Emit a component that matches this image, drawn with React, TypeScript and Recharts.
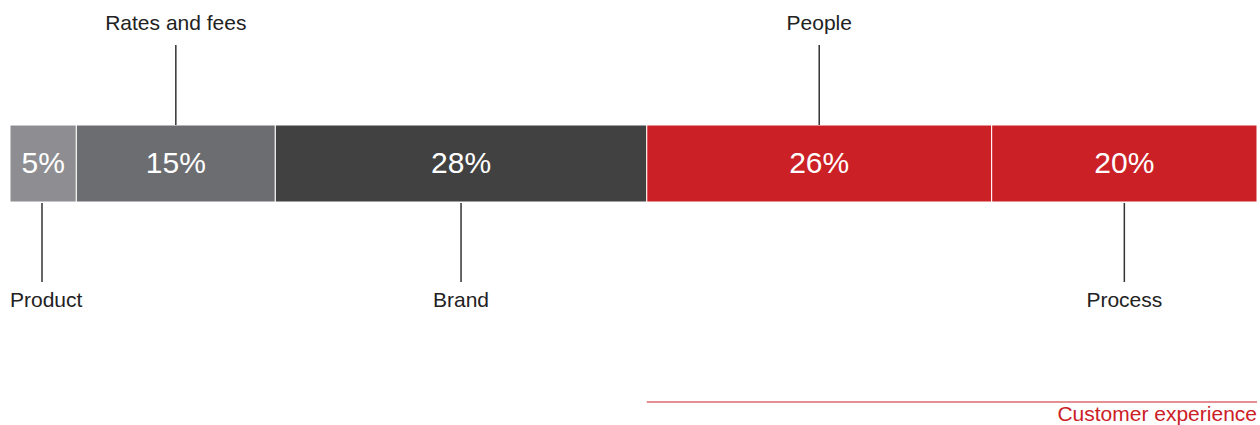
import React from "react";
import { BarChart, Bar, XAxis, YAxis, LabelList } from "recharts";

const categories = ["Drivers"];
const seriesNames = ["Product", "Rates and fees", "Brand", "People", "Process"];
const seriesKeys = ["product", "rates", "brand", "people", "process"];
const seriesValues = [5, 15, 28, 26, 20];
const seriesColors = ["#8e8e92", "#6c6d71", "#414141", "#cc2027", "#cc2027"];
const calloutSide = ["down", "up", "down", "up", "down"];
const groupLabel = "Customer experience";
const total = seriesValues.reduce((a, b) => a + b, 0);

const data = categories.map((c) => {
  const row: any = { name: c };
  seriesKeys.forEach((k, i) => (row[k] = seriesValues[i]));
  return row;
});

const FONT = "'Liberation Sans', Arial, sans-serif";

const makeLabel = (i: number) => (props: any) => {
  const { x, y, width, height } = props;
  const cx = x + width / 2;
  const side = calloutSide[i];
  const isFirst = i === 0;
  const els: any[] = [];
  els.push(
    <text key="v" x={cx} y={y + height / 2 + 9} textAnchor="middle" fill="#ffffff" fontSize={30} fontFamily={FONT}>
      {seriesValues[i]}%
    </text>
  );
  const lx = isFirst ? x + 32 : cx;
  if (side === "up") {
    els.push(<line key="l" x1={lx} x2={lx} y1={y - 80} y2={y} stroke="#333" strokeWidth={1.5} />);
    els.push(
      <text key="t" x={lx} y={y - 95} textAnchor="middle" fill="#222" fontSize={21} fontFamily={FONT}>
        {seriesNames[i]}
      </text>
    );
  } else {
    els.push(<line key="l" x1={lx} x2={lx} y1={y + height + 1} y2={y + height + 80} stroke="#333" strokeWidth={1.5} />);
    els.push(
      <text key="t" x={isFirst ? x : lx} y={y + height + 105} textAnchor={isFirst ? "start" : "middle"} fill="#222" fontSize={21} fontFamily={FONT}>
        {seriesNames[i]}
      </text>
    );
  }
  if (i === 3) {
    const perUnit = width / seriesValues[3];
    const endX = x + width + seriesValues[4] * perUnit;
    els.push(<line key="g" x1={x} x2={endX} y1={y + height + 200} y2={y + height + 200} stroke="#cc2027" strokeWidth={1.2} />);
    els.push(
      <text key="gt" x={endX} y={y + height + 219} textAnchor="end" fill="#cc2027" fontSize={21} fontFamily={FONT}>
        {groupLabel}
      </text>
    );
  }
  return <g>{els}</g>;
};

export default function App() {
  return (
    <div style={{ position: "absolute", left: 0, top: 0, background: "#fff" }}>
      <BarChart
        width={1260}
        height={425}
        data={data}
        layout="vertical"
        margin={{ top: 125, right: 3, bottom: 223, left: 10 }}
        barCategoryGap={0}
      >
        <XAxis type="number" domain={[0, total]} hide />
        <YAxis type="category" dataKey="name" hide />
        {seriesKeys.map((k, i) => (
          <Bar key={k} dataKey={k} stackId="a" fill={seriesColors[i]} stroke="#ffffff" strokeWidth={1} isAnimationActive={false}>
            <LabelList dataKey={k} content={makeLabel(i)} />
          </Bar>
        ))}
      </BarChart>
    </div>
  );
}
